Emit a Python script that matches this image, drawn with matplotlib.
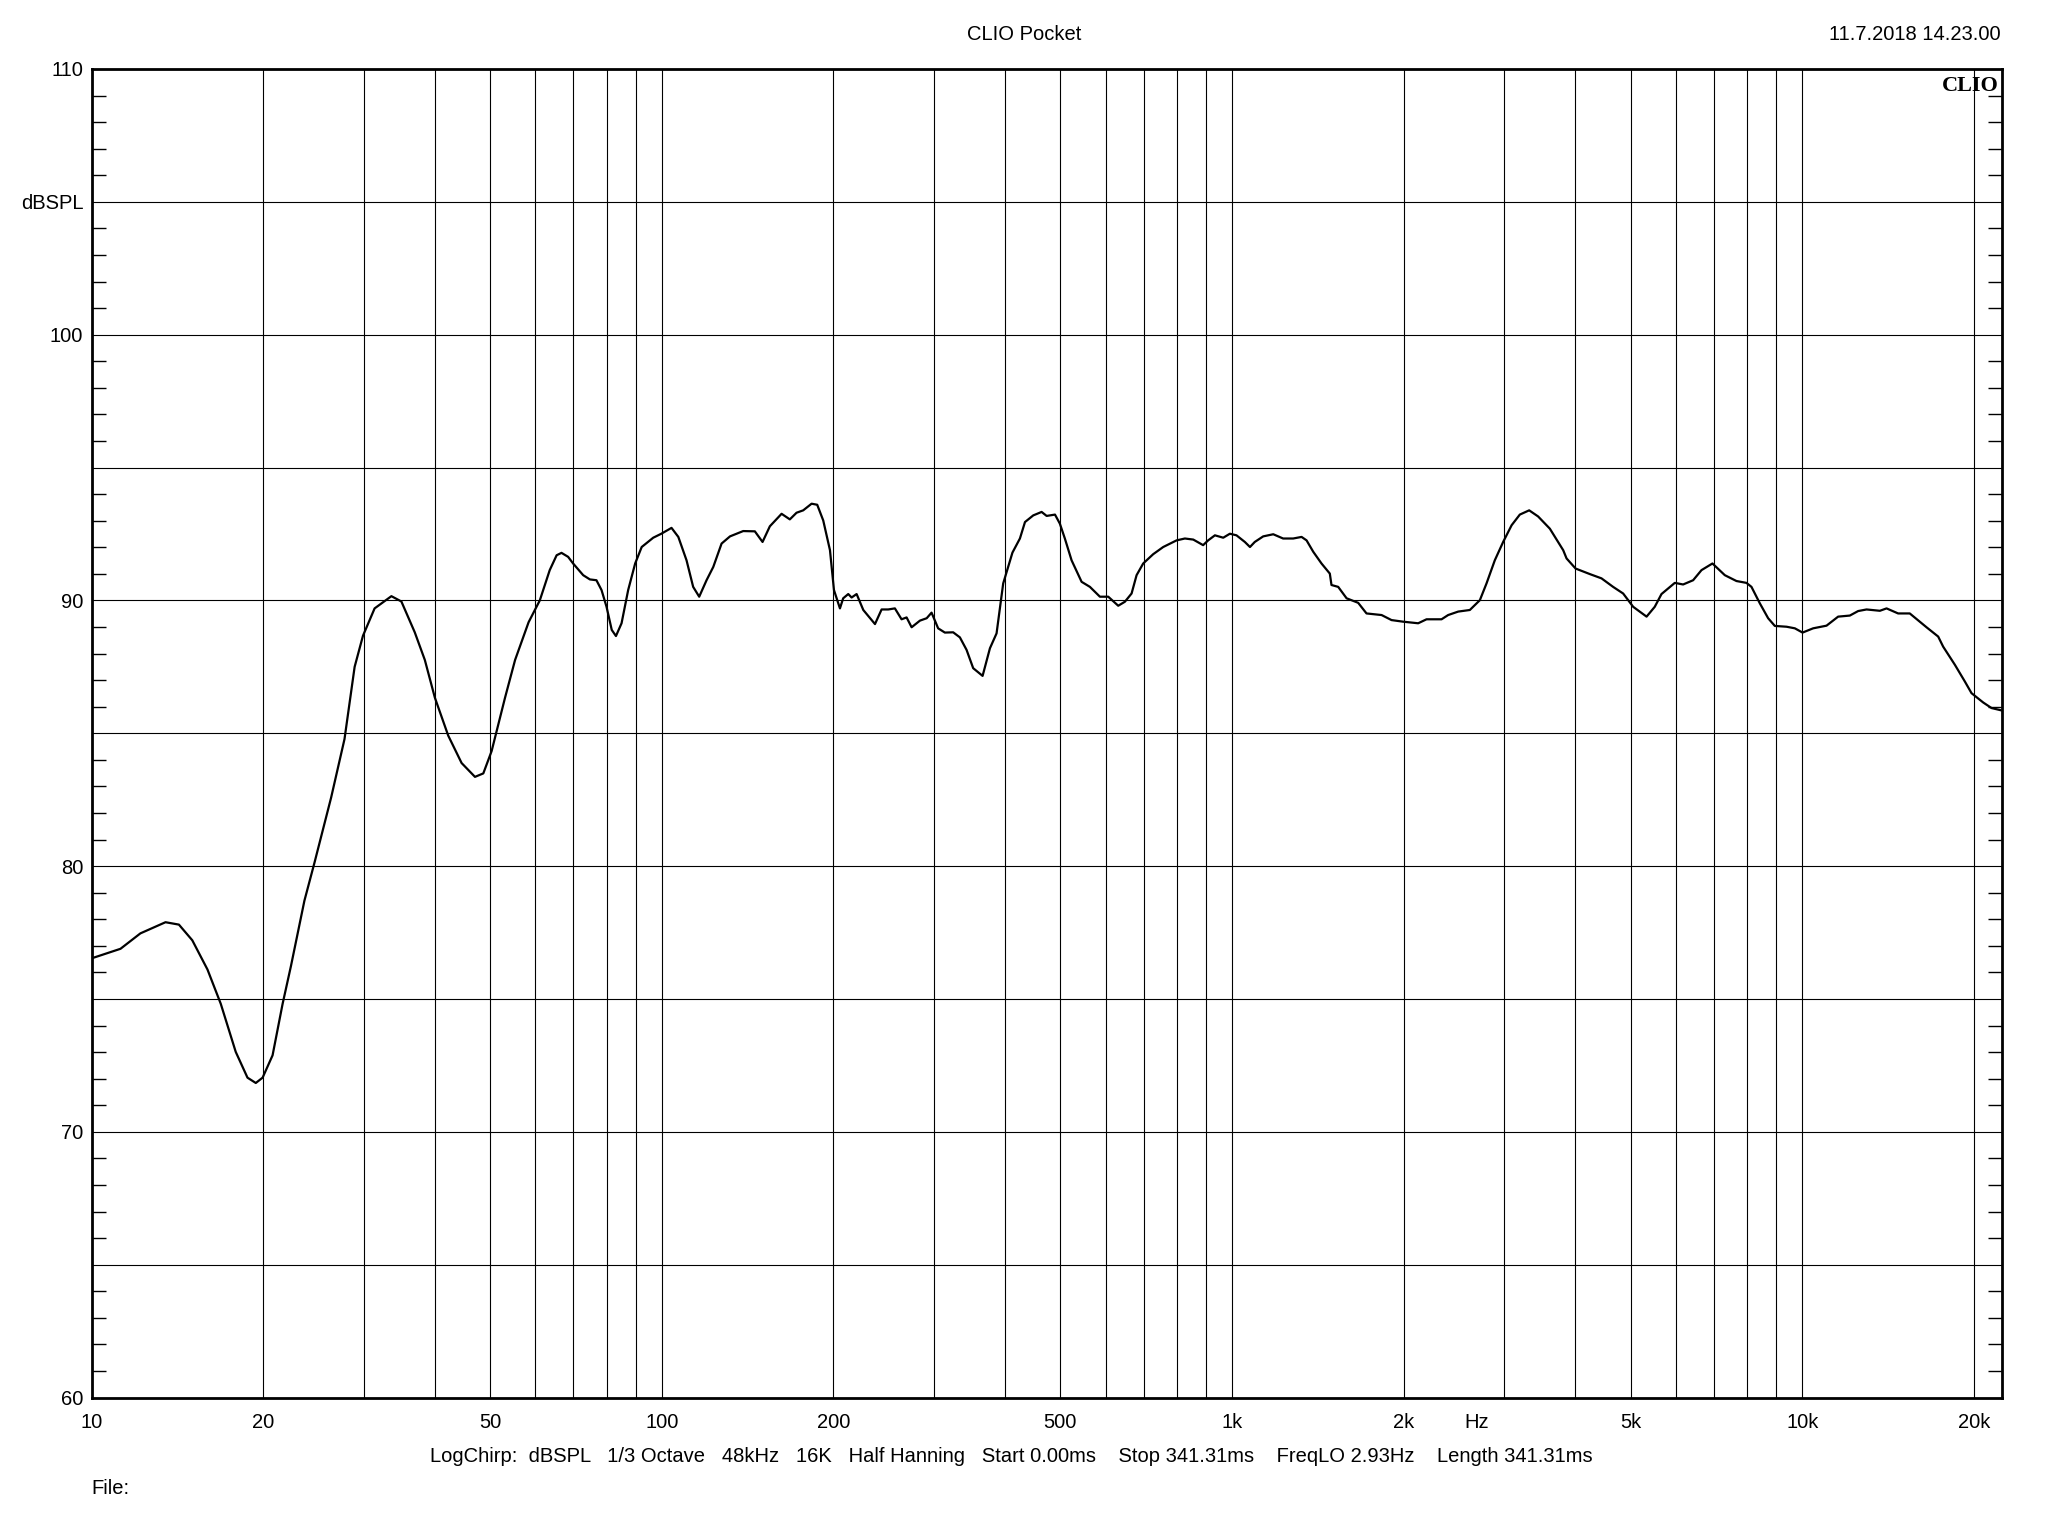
import matplotlib
matplotlib.use("Agg")
import matplotlib.pyplot as plt
import numpy as np

plt.rcParams['font.family'] = ['Liberation Sans', 'DejaVu Sans']

# frequency response (Hz, dBSPL)
freq = [10, 11.24, 12.18, 13.48, 14.23, 15.02, 15.97, 16.85, 17.90, 18.77,
        19.41, 19.95, 20.77, 21.63, 22.37, 23.62, 24.60, 26.31, 27.77, 28.93,
        29.92, 31.36, 33.56, 34.94, 36.88, 38.41, 40.0, 42.22, 44.56, 47.03,
        48.64, 50.3, 53.1, 55.3, 58.4, 61.1, 63.6, 65.4, 66.7, 68.5,
        69.9, 72.8, 74.8, 76.8, 78.4, 80.0, 81.7, 83.1, 85.0, 87.3,
        89.8, 92.2, 96.6, 99.8, 104.0, 106.9, 110.5, 113.5, 116.3, 119.8,
        123.1, 127.3, 131.7, 138.9, 145.6, 150.2, 154.7, 162.2, 167.7, 172.3,
        177.0, 183.1, 187.3, 191.9, 197.2, 200.4, 205.3, 208.0, 212.3, 215.2,
        219.6, 225.6, 236.5, 242.9, 249.5, 256.3, 263.3, 268.7, 274.2, 283.6,
        291.4, 297.2, 305.2, 313.6, 324.3, 333.2, 342.3, 351.6, 365.2, 376.2,
        386.4, 396.9, 412.0, 424.6, 433.4, 448.1, 463.5, 473.0, 489.2, 498.9,
        509.1, 523.1, 544.7, 563.3, 586.5, 606.6, 631.5, 648.7, 666.5, 680.1,
        698.5, 727.3, 757.3, 799.4, 826.6, 855.0, 889.8, 908.0, 933.1, 965.0,
        991.3, 1018, 1053, 1075, 1096, 1134, 1181, 1229, 1280, 1324,
        1351, 1388, 1435, 1484, 1494, 1535, 1588, 1664, 1721, 1829,
        1904, 1995, 2120, 2193, 2330, 2393, 2492, 2612, 2720, 2794,
        2889, 2988, 3092, 3196, 3319, 3441, 3608, 3808, 3860, 4003,
        4242, 4445, 4658, 4851, 5051, 5332, 5511, 5663, 5976, 6180,
        6435, 6656, 6957, 7313, 7665, 7981, 8144, 8424, 8711, 8950,
        9383, 9703, 10010, 10447, 11027, 11557, 12115, 12529, 12961, 13677,
        14052, 14723, 15433, 16512, 17308, 17660, 18513, 19275, 19802, 20756,
        21469, 22360]
spl = [76.53, 76.89, 77.47, 77.89, 77.80, 77.21, 76.11, 74.82, 73.01, 72.04,
       71.84, 72.04, 72.88, 74.82, 76.24, 78.70, 80.13, 82.58, 84.78, 87.50,
       88.67, 89.70, 90.16, 89.96, 88.80, 87.76, 86.34, 84.91, 83.88, 83.36,
       83.49, 84.33, 86.34, 87.76, 89.18, 90.0, 91.14, 91.7, 91.79, 91.64,
       91.39, 90.95, 90.79, 90.76, 90.39, 89.76, 88.89, 88.66, 89.14, 90.39,
       91.39, 92.01, 92.36, 92.51, 92.73, 92.39, 91.51, 90.51, 90.14, 90.76,
       91.26, 92.14, 92.41, 92.61, 92.6, 92.2, 92.79, 93.26, 93.05, 93.3,
       93.39, 93.64, 93.6, 93.01, 91.89, 90.39, 89.7, 90.08, 90.24, 90.11,
       90.24, 89.64, 89.11, 89.66, 89.66, 89.7, 89.29, 89.36, 88.99, 89.24,
       89.33, 89.54, 88.95, 88.79, 88.8, 88.61, 88.14, 87.45, 87.16, 88.2,
       88.76, 90.64, 91.8, 92.33, 92.95, 93.2, 93.33, 93.18, 93.23, 92.89,
       92.33, 91.51, 90.7, 90.51, 90.14, 90.14, 89.8, 89.95, 90.26, 90.95,
       91.39, 91.74, 92.01, 92.26, 92.33, 92.29, 92.08, 92.26, 92.45, 92.36,
       92.51, 92.45, 92.2, 92.01, 92.2, 92.41, 92.49, 92.33, 92.33, 92.39,
       92.26, 91.83, 91.39, 91.01, 90.58, 90.51, 90.08, 89.91, 89.51, 89.45,
       89.26, 89.2, 89.14, 89.29, 89.29, 89.45, 89.58, 89.64, 90.01, 90.64,
       91.51, 92.2, 92.83, 93.23, 93.39, 93.16, 92.7, 91.89, 91.58, 91.2,
       90.99, 90.83, 90.51, 90.26, 89.76, 89.39, 89.76, 90.24, 90.66, 90.6,
       90.76, 91.14, 91.39, 90.95, 90.73, 90.66, 90.51, 89.89, 89.33, 89.04,
       89.01, 88.95, 88.79, 88.95, 89.05, 89.39, 89.43, 89.6, 89.66, 89.61,
       89.7, 89.51, 89.51, 88.99, 88.64, 88.26, 87.58, 86.95, 86.51, 86.16,
       85.95, 85.86]

x_labels = {10: '10', 20: '20', 50: '50', 100: '100', 200: '200', 500: '500',
            1000: '1k', 2000: '2k', 5000: '5k', 10000: '10k', 20000: '20k'}
y_ticks = [60, 65, 70, 75, 80, 85, 90, 95, 100, 105, 110]
y_labels = ['60', '', '70', '', '80', '', '90', '', '100', 'dBSPL', '110']

info = ("LogChirp:  dBSPL   1/3 Octave   48kHz   16K   Half Hanning   "
        "Start 0.00ms    Stop 341.31ms    FreqLO 2.93Hz    Length 341.31ms")

FS = 14.5

fig = plt.figure(figsize=(20.48, 15.36), dpi=100)
ax = fig.add_axes([0.0447, 0.0901, 0.9327, 0.865])

ax.semilogx(freq, spl, color='black', lw=1.6, zorder=3)
ax.set_xlim(10, 22370)
ax.set_ylim(60, 110)

# vertical grid at every 1..9 x decade
xgrid = [m * 10 ** d for d in range(1, 5) for m in range(1, 10) if m * 10 ** d <= 20000]
ax.set_xticks(xgrid)
ax.set_xticklabels([x_labels.get(v, '') for v in xgrid])
ax.xaxis.set_minor_locator(matplotlib.ticker.NullLocator())
ax.tick_params(axis='x', which='major', length=0, pad=11, labelsize=FS)

ax.set_yticks(y_ticks)
ax.set_yticklabels(y_labels)
ax.set_yticks(np.arange(60, 111, 1), minor=True)
ax.tick_params(axis='y', which='major', length=0, pad=6, labelsize=FS)
ax.tick_params(axis='y', which='minor', direction='in', length=10, width=1,
               left=True, right=True, labelleft=False)

ax.grid(True, which='major', color='black', lw=0.8)
for s in ax.spines.values():
    s.set_linewidth(2)

ax.annotate('Hz', xy=(2690, 0), xycoords=('data', 'axes fraction'),
            xytext=(0, -11), textcoords='offset points', ha='center', va='top',
            fontsize=FS)
ax.text(0.9985, 0.995, 'CLIO', transform=ax.transAxes, ha='right', va='top',
        fontsize=16, fontweight='bold', family='Liberation Serif')

fig.text(0.5, 1 - 35 / 1536, 'CLIO Pocket', ha='center', va='center', fontsize=FS)
fig.text(2001 / 2048, 1 - 35 / 1536, '11.7.2018 14.23.00', ha='right', va='center',
         fontsize=FS)
fig.text(1011 / 2048, 1 - 1456 / 1536, info, ha='center', va='center', fontsize=FS)
fig.text(91 / 2048, 1 - 1489 / 1536, 'File:', ha='left', va='center', fontsize=FS)

fig.savefig('out.png', dpi=100, facecolor='white')
